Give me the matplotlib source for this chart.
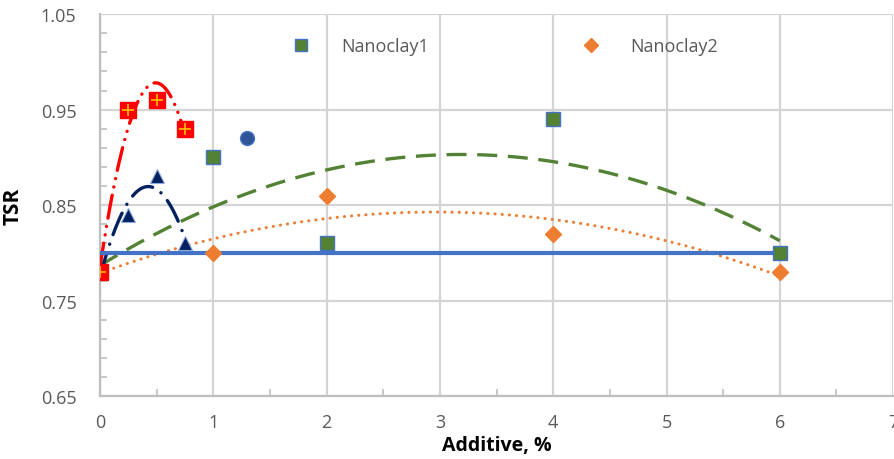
import numpy as np
import matplotlib
matplotlib.use("Agg")
import matplotlib.pyplot as plt

plt.rcParams['font.family'] = ['Open Sans', 'DejaVu Sans']

# Nanoclay series
nc1_x = [0, 1, 2, 4, 6]
nc1_y = [0.78, 0.90, 0.81, 0.94, 0.80]
nc2_x = [0, 1, 2, 4, 6]
nc2_y = [0.78, 0.80, 0.86, 0.82, 0.78]

# low-dosage series
red_x = [0, 0.25, 0.5, 0.75]
red_y = [0.78, 0.95, 0.96, 0.93]
navy_x = [0, 0.25, 0.5, 0.75]
navy_y = [0.78, 0.84, 0.88, 0.81]

# single point and the flat reference line
circle_x = [1.3]
circle_y = [0.92]
flat_x = [0, 6]
flat_y = [0.80, 0.80]


def trend(x, y, n=200):
    # 2nd order polynomial trendline over the data range
    c = np.polyfit(x, y, 2)
    xs = np.linspace(min(x), max(x), n)
    return xs, np.polyval(c, xs)


fig = plt.figure(figsize=(8.94, 4.6), dpi=100)
ax = fig.add_axes([0.112, 0.137, 0.887, 0.830])

grid_c = '#d4d4d4'
ax.set_xlim(0, 7)
ax.set_ylim(0.65, 1.05)
ax.set_xticks(np.arange(0, 8, 1))
ax.set_xticks(np.arange(0, 7.01, 0.5), minor=True)
ax.set_yticks([0.65, 0.75, 0.85, 0.95, 1.05])
ax.set_yticks(np.arange(0.65, 1.051, 0.02), minor=True)
ax.set_yticklabels(['0.65', '0.75', '0.85', '0.95', '1.05'])
ax.grid(True, which='major', color=grid_c, lw=1.6, zorder=0)
ax.tick_params(which='both', direction='in', color='#bfbfbf', width=1.2,
               labelcolor='#595959', labelsize=13)
ax.tick_params(axis='y', which='major', length=0, pad=17)
ax.tick_params(axis='x', which='major', length=0, pad=12)
ax.tick_params(which='minor', length=5)
for s in ['top', 'right']:
    ax.spines[s].set_visible(False)
for s in ['left', 'bottom']:
    ax.spines[s].set_color('#bfbfbf')
    ax.spines[s].set_linewidth(1.6)

# trendlines
xs, ys = trend(nc1_x, nc1_y)
ax.plot(xs, ys, color='#548235', lw=2.4, dashes=(6, 3.2), zorder=3)
xs, ys = trend(nc2_x, nc2_y)
ax.plot(xs, ys, color='#ed7d31', lw=2.2, dashes=(0.05, 2.3),
        dash_capstyle='round', zorder=3)
xs, ys = trend(red_x, red_y)
ax.plot(xs, ys, color='#ff0000', lw=2.4, dashes=(7, 2.5, 0.05, 2.5, 0.05, 2.5),
        dash_capstyle='round', zorder=3)
xs, ys = trend(navy_x, navy_y)
ax.plot(xs, ys, color='#002060', lw=2.4, dashes=(7, 3, 0.05, 3),
        dash_capstyle='round', zorder=3)
ax.plot(flat_x, flat_y, color='#4472c4', lw=3, solid_capstyle='butt', zorder=4)

# markers
ax.plot(nc1_x, nc1_y, 's', ms=9.5, mfc='#548235', mec='#4472c4', mew=1,
        ls='none', zorder=5, label='Nanoclay1')
ax.plot(nc2_x, nc2_y, 'D', ms=8.5, mfc='#ed7d31', mec='#ed7d31',
        ls='none', zorder=5, label='Nanoclay2')
ax.plot(circle_x, circle_y, 'o', ms=10, mfc='#2f5597', mec='#4472c4',
        ls='none', zorder=5)
ax.plot(navy_x, navy_y, '^', ms=10, mfc='#002060', mec='#8faadc', mew=0.8,
        ls='none', zorder=5)
ax.plot(red_x, red_y, 's', ms=11, mfc='#ff0000', mec='#ff0000',
        ls='none', zorder=6)
ax.plot(red_x, red_y, '+', ms=9, mec='#ffc000', mew=1.2,
        ls='none', zorder=7)

ax.legend(loc='upper left', bbox_to_anchor=(0.222, 0.958), ncol=2,
          frameon=False, fontsize=13, labelcolor='#595959',
          borderaxespad=0, columnspacing=7.95, handletextpad=1.2,
          markerscale=0.85)

ax.set_xlabel('Additive, %', fontsize=14, fontweight='bold', labelpad=3)
ax.set_ylabel('TSR', fontsize=15, fontweight='bold', labelpad=12)

fig.savefig('out.png', dpi=100)
